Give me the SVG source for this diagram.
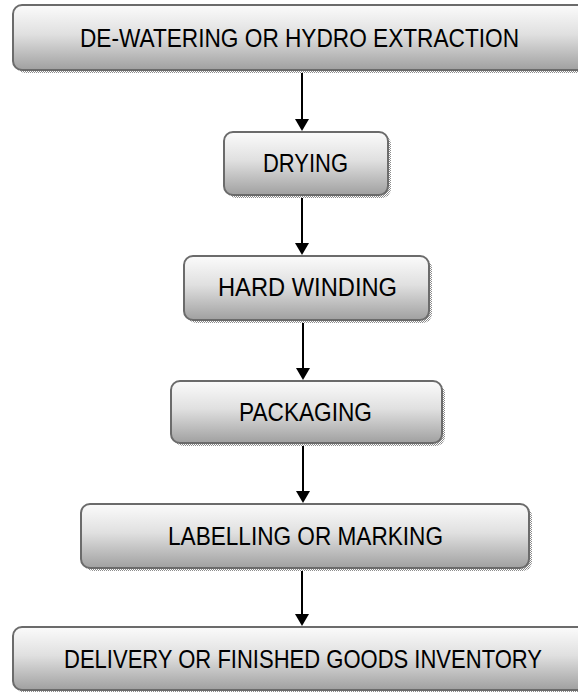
<svg xmlns="http://www.w3.org/2000/svg" width="578" height="692" viewBox="0 0 578 692">
  <defs>
    <linearGradient id="boxFill" x1="0" y1="0" x2="0" y2="1">
      <stop offset="0" stop-color="#fbfbfb"/>
      <stop offset="0.45" stop-color="#e0e0e0"/>
      <stop offset="1" stop-color="#a0a0a0"/>
    </linearGradient>
    <pattern id="dither" width="2" height="2" patternUnits="userSpaceOnUse">
      <rect width="2" height="2" fill="#ffffff"/>
      <rect width="1" height="1" fill="#8c8c8c"/>
      <rect x="1" y="1" width="1" height="1" fill="#8c8c8c"/>
    </pattern>
  </defs>
  <style>
    .shadow { fill: url(#dither); }
    .box { fill: url(#boxFill); stroke: #6b6b6b; stroke-width: 2; }
    .label { font-family: "Liberation Sans", Arial, sans-serif; font-size: 26px; fill: #000; text-anchor: middle; }
    .conn { stroke: #000; stroke-width: 2; fill: none; }
    .head { fill: #000; }
  </style>

  <rect width="578" height="692" fill="#ffffff"/>

  <g id="connectors">
    <line class="conn" x1="302" y1="71" x2="302" y2="119"/>
    <path class="head" d="M295,119 L309,119 L302,131 Z"/>
    <line class="conn" x1="302" y1="196" x2="302" y2="243"/>
    <path class="head" d="M295,243 L309,243 L302,255 Z"/>
    <line class="conn" x1="303" y1="321" x2="303" y2="368"/>
    <path class="head" d="M296,368 L310,368 L303,380 Z"/>
    <line class="conn" x1="303" y1="444" x2="303" y2="491"/>
    <path class="head" d="M296,491 L310,491 L303,503 Z"/>
    <line class="conn" x1="302" y1="569" x2="302" y2="614"/>
    <path class="head" d="M295,614 L309,614 L302,626 Z"/>
  </g>

  <g id="node-dewatering">
    <rect class="shadow" x="16" y="8" width="600" height="65" rx="9"/>
    <rect class="box" x="13" y="5" width="600" height="65" rx="9"/>
    <text class="label" x="299.5" y="47" textLength="439" lengthAdjust="spacingAndGlyphs">DE-WATERING OR HYDRO EXTRACTION</text>
  </g>

  <g id="node-drying">
    <rect class="shadow" x="227" y="135" width="164" height="63" rx="9"/>
    <rect class="box" x="224" y="132" width="164" height="63" rx="9"/>
    <text class="label" x="305.5" y="172" textLength="85" lengthAdjust="spacingAndGlyphs">DRYING</text>
  </g>

  <g id="node-hard-winding">
    <rect class="shadow" x="187" y="259" width="245" height="64" rx="9"/>
    <rect class="box" x="184" y="256" width="245" height="64" rx="9"/>
    <text class="label" x="307.5" y="296" textLength="179" lengthAdjust="spacingAndGlyphs">HARD WINDING</text>
  </g>

  <g id="node-packaging">
    <rect class="shadow" x="174" y="384" width="271" height="62" rx="9"/>
    <rect class="box" x="171" y="381" width="271" height="62" rx="9"/>
    <text class="label" x="305.5" y="421" textLength="133" lengthAdjust="spacingAndGlyphs">PACKAGING</text>
  </g>

  <g id="node-labelling">
    <rect class="shadow" x="84" y="507" width="448" height="64" rx="9"/>
    <rect class="box" x="81" y="504" width="448" height="64" rx="9"/>
    <text class="label" x="305.5" y="545" textLength="275" lengthAdjust="spacingAndGlyphs">LABELLING OR MARKING</text>
  </g>

  <g id="node-delivery">
    <rect class="shadow" x="16" y="630" width="600" height="63" rx="9"/>
    <rect class="box" x="13" y="627" width="600" height="63" rx="9"/>
    <text class="label" x="303" y="668" textLength="478" lengthAdjust="spacingAndGlyphs">DELIVERY OR FINISHED GOODS INVENTORY</text>
  </g>
</svg>
